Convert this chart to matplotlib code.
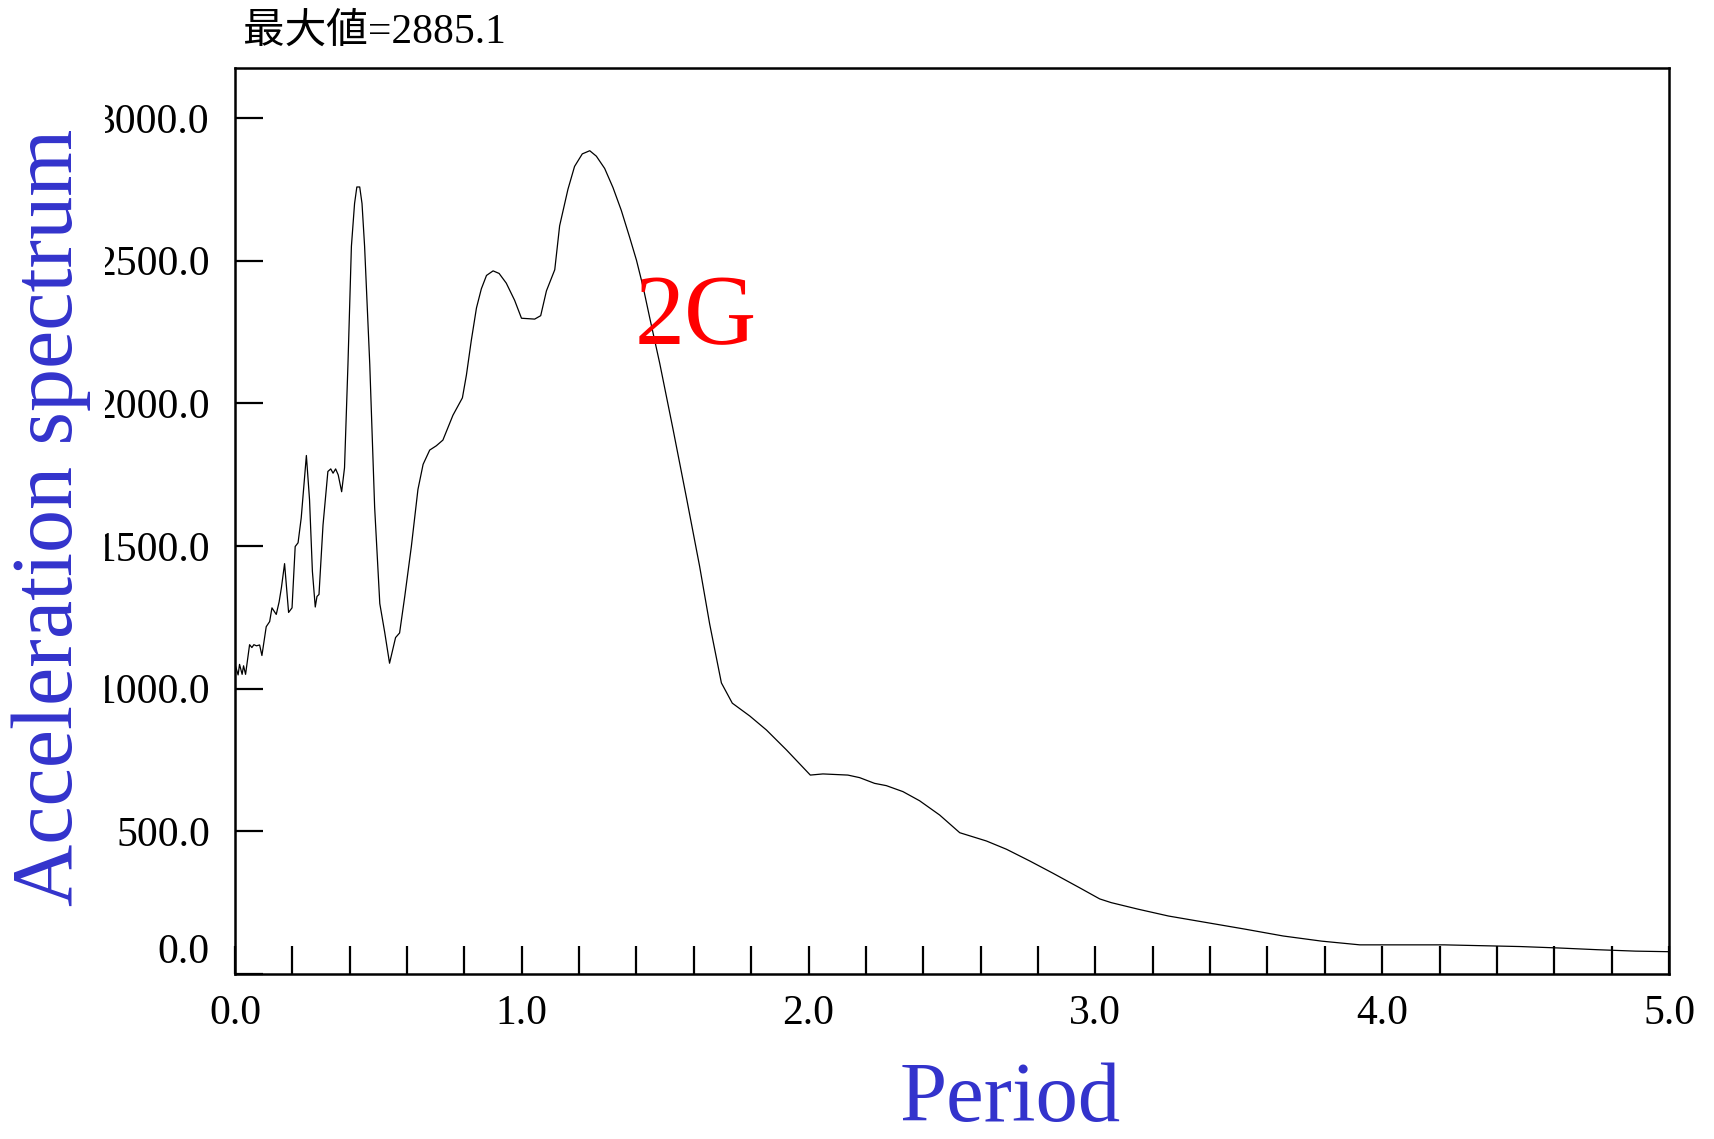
import matplotlib
matplotlib.use("Agg")
import matplotlib.pyplot as plt
from matplotlib.patches import Rectangle
from matplotlib.ticker import FixedLocator, MultipleLocator
from matplotlib.transforms import ScaledTranslation

# response spectrum (period s, acceleration)
period = [0.002, 0.011, 0.016, 0.025, 0.030, 0.037, 0.051, 0.059, 0.066, 0.075,
          0.086, 0.094, 0.109, 0.121, 0.129, 0.144, 0.154, 0.162, 0.173, 0.187,
          0.199, 0.210, 0.220, 0.231, 0.249, 0.260, 0.270, 0.280, 0.286, 0.293,
          0.307, 0.324, 0.334, 0.342, 0.351, 0.360, 0.372, 0.382, 0.394, 0.406,
          0.417, 0.425, 0.435, 0.443, 0.452, 0.470, 0.487, 0.505, 0.522, 0.539,
          0.560, 0.574, 0.592, 0.615, 0.638, 0.656, 0.679, 0.702, 0.725, 0.760,
          0.793, 0.807, 0.824, 0.842, 0.859, 0.877, 0.900, 0.921, 0.946, 0.975,
          0.999, 1.045, 1.066, 1.086, 1.115, 1.132, 1.161, 1.184, 1.211, 1.237,
          1.260, 1.289, 1.318, 1.347, 1.376, 1.400, 1.423, 1.446, 1.481, 1.527,
          1.574, 1.620, 1.655, 1.696, 1.734, 1.795, 1.853, 1.923, 2.006, 2.050,
          2.137, 2.178, 2.230, 2.271, 2.329, 2.387, 2.457, 2.527, 2.620, 2.690,
          2.771, 2.852, 2.945, 3.015, 3.055, 3.149, 3.255, 3.389, 3.522, 3.655,
          3.789, 3.922, 4.056, 4.216, 4.349, 4.483, 4.616, 4.750, 4.883, 5.000]
accel = [1079, 1048, 1085, 1050, 1080, 1050, 1154, 1144, 1154, 1150,
         1153, 1116, 1217, 1235, 1283, 1260, 1304, 1354, 1438, 1267,
         1283, 1498, 1511, 1598, 1817, 1662, 1411, 1286, 1323, 1330,
         1573, 1761, 1770, 1755, 1770, 1749, 1690, 1774, 2137, 2550,
         2700, 2758, 2758, 2700, 2550, 2137, 1636, 1298, 1198, 1089,
         1179, 1195, 1323, 1498, 1698, 1786, 1836, 1851, 1871, 1958,
         2019, 2099, 2220, 2334, 2401, 2448, 2464, 2455, 2421, 2361,
         2298, 2295, 2307, 2394, 2468, 2622, 2750, 2830, 2874, 2885.1,
         2866, 2823, 2756, 2676, 2582, 2501, 2408, 2300, 2140, 1911,
         1670, 1429, 1227, 1020, 949, 904, 855, 785, 697, 701,
         697, 688, 668, 660, 639, 607, 557, 495, 466, 437,
         396, 353, 302, 263, 250, 227, 203, 180, 157, 133,
         115, 102, 102, 102, 99, 96, 91, 85, 80, 78]

x_ticks = [0, 1, 2, 3, 4, 5]
y_ticks = [0, 500, 1000, 1500, 2000, 2500, 3000]
curve_name = "2G"

BLUE = "#3333cc"
SERIF = ["Liberation Serif", "Noto Sans CJK JP"]

fig = plt.figure(figsize=(17.15, 11.39), dpi=100)
ax = fig.add_axes([0.1370, 0.1449, 0.8362, 0.7954])

ax.plot(period, accel, color="black", lw=0.9)
ax.set_xlim(0, 5)
ax.set_ylim(0, 3175)

ax.xaxis.set_major_locator(FixedLocator(x_ticks))
ax.xaxis.set_minor_locator(MultipleLocator(0.2))
ax.set_xticks(x_ticks, [f"{v:.1f}" for v in x_ticks])
ax.set_yticks(y_ticks, [f"{v:.1f}" for v in y_ticks])
ax.tick_params(axis="x", which="both", direction="in", length=20, width=1.6,
               pad=15, labelsize=30, top=False)
ax.tick_params(axis="y", direction="in", length=20, width=1.6, pad=18,
               labelsize=30, right=False)
for lab in ax.get_xticklabels() + ax.get_yticklabels():
    lab.set_fontfamily(SERIF)
for s in ax.spines.values():
    s.set_linewidth(1.8)

# bottom label sits a bit higher than its tick
t0 = ax.yaxis.get_major_ticks()[0]
t0.label1.set_transform(t0.label1.get_transform()
                        + ScaledTranslation(0, 0.26, fig.dpi_scale_trans))

ax.text(1.395, 2210, curve_name, color="red", fontsize=72,
        family=SERIF, ha="left", va="baseline")

# white strip clips the long y tick labels at the left
fig.add_artist(Rectangle((0, 0), 105 / 1715, 1, transform=fig.transFigure,
                         facecolor="white", edgecolor="none", zorder=1))

fig.text(0.030, 0.5460, "Acceleration spectrum", rotation=90, color=BLUE,
         fontsize=62, family=SERIF, ha="center", va="center", zorder=3)
fig.text(0.589, 0.0155, "Period", color=BLUE, fontsize=61, family=SERIF,
         ha="center", va="baseline")
fig.text(243 / 1715, 1 - 43 / 1139, f"最大値={max(accel):.1f}", fontsize=30,
         family=SERIF, ha="left", va="baseline")

fig.savefig("out.png", dpi=100)
